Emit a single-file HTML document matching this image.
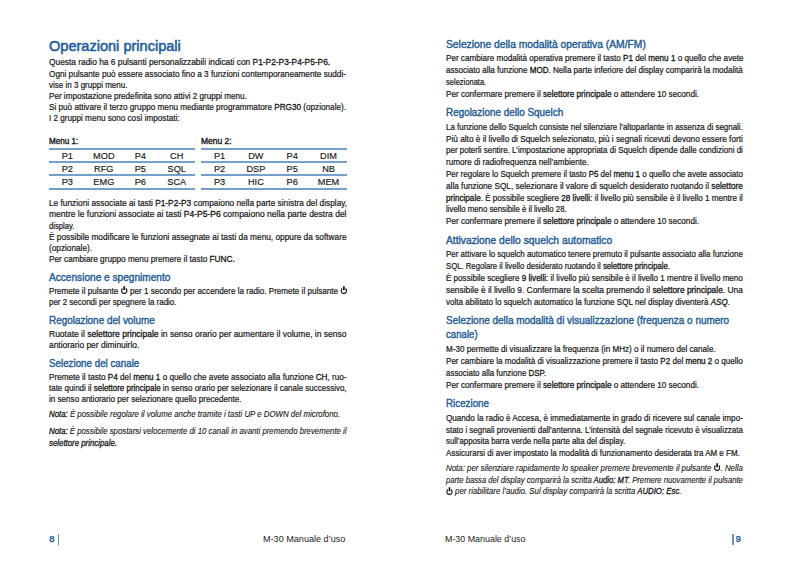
<!DOCTYPE html><html><head><meta charset="utf-8"><style>
*{margin:0;padding:0;box-sizing:border-box}
html,body{width:793px;height:561px;overflow:hidden;background:#fff}
body{position:relative;font-family:"Liberation Sans",sans-serif;color:#231f20}
.ln{position:absolute;white-space:nowrap;line-height:1;transform-origin:0 0}
.t,.mh,.ft{font-size:8.6px;color:#161616;-webkit-text-stroke:0.2px #161616}
.mh{-webkit-text-stroke:0.35px #161616}
.ft{-webkit-text-stroke:0;font-size:9.4px;color:#222}
.title{font-size:15.3px;color:#1d5c9a;-webkit-text-stroke:0.55px #1d5c9a}
.h{font-size:10.5px;color:#1f5b96;-webkit-text-stroke:0.4px #1f5b96}
i{-webkit-text-stroke:0.12px currentColor}
b{font-weight:normal;-webkit-text-stroke:0.3px currentColor}
.pw{display:inline-block;vertical-align:-0.6px;-webkit-text-stroke:0}
.rule{position:absolute;height:2px;background:#74a0cb}
.cell{position:absolute;font-size:9.2px;line-height:1;white-space:nowrap;text-align:center;color:#161616;-webkit-text-stroke:0.15px #161616}
.pg{position:absolute;font-size:9.2px;line-height:1;color:#255f98;-webkit-text-stroke:0.45px #255f98}
.bar{position:absolute;width:1.6px;background:#6a93bf}
</style></head><body><div class="ln title" id="l0" style="left:48.68px;top:38.05px;transform:scaleX(0.9510)">Operazioni principali</div>
<div class="ln t" id="l1" style="left:48.52px;top:58.02px;transform:scaleX(0.9728)">Questa radio ha 6 pulsanti personalizzabili indicati con <b>P1-P2-P3-P4-P5-P6.</b></div>
<div class="ln t" id="l2" style="left:48.52px;top:70.12px;transform:scaleX(0.9549)">Ogni pulsante può essere associato fino a 3 funzioni contemporaneamente suddi-</div>
<div class="ln t" id="l3" style="left:48.52px;top:81.42px;transform:scaleX(0.9334)">vise in 3 gruppi menu.</div>
<div class="ln t" id="l4" style="left:48.52px;top:92.32px;transform:scaleX(0.9434)">Per impostazione predefinita sono attivi 2 gruppi menu.</div>
<div class="ln t" id="l5" style="left:48.52px;top:103.42px;transform:scaleX(0.9506)">Si può attivare il terzo gruppo menu mediante programmatore <b>PRG30</b> (opzionale).</div>
<div class="ln t" id="l6" style="left:48.52px;top:113.92px;transform:scaleX(0.9451)">I 2 gruppi menu sono così impostati:</div>
<div class="ln mh" id="l7" style="left:48.52px;top:137.12px;transform:scaleX(0.9453)">Menu 1:</div>
<div class="ln mh" id="l8" style="left:200.68px;top:137.12px;transform:scaleX(0.9877)">Menu 2:</div>
<div class="ln t" id="l9" style="left:48.52px;top:198.82px;transform:scaleX(0.9665)">Le funzioni associate ai tasti <b>P1-P2-P3</b> compaiono nella parte sinistra del display,</div>
<div class="ln t" id="l10" style="left:48.52px;top:210.12px;transform:scaleX(0.9901)">mentre le funzioni associate ai tasti <b>P4-P5-P6</b> compaiono nella parte destra del</div>
<div class="ln t" id="l11" style="left:48.52px;top:222.12px;transform:scaleX(0.8941)">display.</div>
<div class="ln t" id="l12" style="left:48.52px;top:233.12px;transform:scaleX(0.9656)">È possibile modificare le funzioni assegnate ai tasti da menu, oppure da software</div>
<div class="ln t" id="l13" style="left:48.52px;top:244.22px;transform:scaleX(0.9576)">(opzionale).</div>
<div class="ln t" id="l14" style="left:48.52px;top:255.42px;transform:scaleX(0.9551)">Per cambiare gruppo menu premere il tasto <b>FUNC.</b></div>
<div class="ln h" id="l15" style="left:48.52px;top:272.11px;transform:scaleX(0.9625)">Accensione e spegnimento</div>
<div class="ln t" id="l16" style="left:48.52px;top:286.22px;transform:scaleX(0.9427)">Premete il pulsante <svg class="pw" viewBox="0 0 7 7.5" width="7.6" height="8.1"><path d="M5.17 2.31 A2.6 2.6 0 1 1 1.83 2.31" fill="none" stroke="currentColor" stroke-width="1.15"/><path d="M3.5 0.2 V3.9" stroke="currentColor" stroke-width="1.7"/></svg> per 1 secondo per accendere la radio. Premete il pulsante <svg class="pw" viewBox="0 0 7 7.5" width="7.6" height="8.1"><path d="M5.17 2.31 A2.6 2.6 0 1 1 1.83 2.31" fill="none" stroke="currentColor" stroke-width="1.15"/><path d="M3.5 0.2 V3.9" stroke="currentColor" stroke-width="1.7"/></svg></div>
<div class="ln t" id="l17" style="left:48.52px;top:298.02px;transform:scaleX(0.9268)">per 2 secondi per spegnere la radio.</div>
<div class="ln h" id="l18" style="left:48.52px;top:314.61px;transform:scaleX(0.9447)">Regolazione del volume</div>
<div class="ln t" id="l19" style="left:48.52px;top:330.42px;transform:scaleX(0.9885)">Ruotate il <b>selettore principale</b> in senso orario per aumentare il volume, in senso</div>
<div class="ln t" id="l20" style="left:48.52px;top:341.02px;transform:scaleX(0.9797)">antiorario per diminuirlo.</div>
<div class="ln h" id="l21" style="left:48.52px;top:358.01px;transform:scaleX(0.9320)">Selezione del canale</div>
<div class="ln t" id="l22" style="left:48.52px;top:372.82px;transform:scaleX(0.9478)">Premete il tasto <b>P4</b> del <b>menu 1</b> o quello che avete associato alla funzione <b>CH</b>, ruo-</div>
<div class="ln t" id="l23" style="left:48.52px;top:384.02px;transform:scaleX(0.9268)">tate quindi il <b>selettore principale</b> in senso orario per selezionare il canale successivo,</div>
<div class="ln t" id="l24" style="left:48.52px;top:395.22px;transform:scaleX(0.9413)">in senso antiorario per selezionare quello precedente.</div>
<div class="ln t" id="l25" style="left:48.52px;top:410.12px;transform:scaleX(0.9133)"><i><b>Nota:</b> È possibile regolare il volume anche tramite i tasti UP e DOWN del microfono.</i></div>
<div class="ln t" id="l26" style="left:48.52px;top:427.12px;transform:scaleX(0.9079)"><i><b>Nota:</b> È possibile spostarsi velocemente di 10 canali in avanti premendo brevemente il</i></div>
<div class="ln t" id="l27" style="left:48.52px;top:439.22px;transform:scaleX(0.9124)"><i><b>selettore principale.</b></i></div>
<div class="ln ft" id="l28" style="left:262.64px;top:534.04px;transform:scaleX(0.9690)">M-30 Manuale d&#8217;uso</div>
<div class="ln ft" id="l29" style="left:445.20px;top:534.04px;transform:scaleX(0.9478)">M-30 Manuale d&#8217;uso</div>
<div class="ln h" id="l30" style="left:445.52px;top:38.91px;transform:scaleX(0.9811)">Selezione della modalità operativa (AM/FM)</div>
<div class="ln t" id="l31" style="left:445.52px;top:54.32px;transform:scaleX(0.9434)">Per cambiare modalità operativa premere il tasto <b>P1</b> del <b>menu 1</b> o quello che avete</div>
<div class="ln t" id="l32" style="left:445.52px;top:65.82px;transform:scaleX(0.9372)">associato alla funzione <b>MOD</b>. Nella parte inferiore del display comparirà la modalità</div>
<div class="ln t" id="l33" style="left:445.52px;top:77.62px;transform:scaleX(0.8764)">selezionata.</div>
<div class="ln t" id="l34" style="left:445.52px;top:90.42px;transform:scaleX(0.9491)">Per confermare premere il <b>selettore principale</b> o attendere 10 secondi.</div>
<div class="ln h" id="l35" style="left:445.52px;top:106.71px;transform:scaleX(0.9426)">Regolazione dello Squelch</div>
<div class="ln t" id="l36" style="left:445.52px;top:122.62px;transform:scaleX(0.9260)">La funzione dello Squelch consiste nel silenziare l&#8217;altoparlante in assenza di segnali.</div>
<div class="ln t" id="l37" style="left:445.52px;top:134.82px;transform:scaleX(0.9589)">Più alto è il livello di Squelch selezionato, più i segnali ricevuti devono essere forti</div>
<div class="ln t" id="l38" style="left:445.52px;top:146.32px;transform:scaleX(0.9288)">per poterli sentire. L&#8217;impostazione appropriata di Squelch dipende dalle condizioni di</div>
<div class="ln t" id="l39" style="left:445.52px;top:157.92px;transform:scaleX(0.9432)">rumore di radiofrequenza nell&#8217;ambiente.</div>
<div class="ln t" id="l40" style="left:445.52px;top:170.12px;transform:scaleX(0.9274)">Per regolare lo Squelch premere il tasto <b>P5</b> del <b>menu 1</b> o quello che avete associato</div>
<div class="ln t" id="l41" style="left:445.52px;top:181.92px;transform:scaleX(0.9574)">alla funzione SQL, selezionare il valore di squelch desiderato ruotando il <b>selettore</b></div>
<div class="ln t" id="l42" style="left:445.52px;top:194.32px;transform:scaleX(0.9429)"><b>principale</b>. È possibile scegliere <b>28 livelli</b>: il livello più sensibile è il livello 1 mentre il</div>
<div class="ln t" id="l43" style="left:445.52px;top:205.02px;transform:scaleX(0.9088)">livello meno sensibile è il livello 28.</div>
<div class="ln t" id="l44" style="left:445.52px;top:216.72px;transform:scaleX(0.9491)">Per confermare premere il <b>selettore principale</b> o attendere 10 secondi.</div>
<div class="ln h" id="l45" style="left:445.52px;top:234.61px;transform:scaleX(0.9785)">Attivazione dello squelch automatico</div>
<div class="ln t" id="l46" style="left:445.52px;top:250.02px;transform:scaleX(0.9260)">Per attivare lo squelch automatico tenere premuto il pulsante associato alla funzione</div>
<div class="ln t" id="l47" style="left:445.52px;top:262.22px;transform:scaleX(0.9000)">SQL. Regolare il livello desiderato ruotando il <b>selettore principale</b>.</div>
<div class="ln t" id="l48" style="left:445.52px;top:274.02px;transform:scaleX(0.9387)">È possibile scegliere <b>9 livelli</b>: il livello più sensibile è il livello 1 mentre il livello meno</div>
<div class="ln t" id="l49" style="left:445.52px;top:286.32px;transform:scaleX(0.9755)">sensibile è il livello 9. Confermare la scelta premendo il <b>selettore principale</b>. Una</div>
<div class="ln t" id="l50" style="left:445.52px;top:297.82px;transform:scaleX(0.9386)">volta abilitato lo squelch automatico la funzione SQL nel display diventerà <i><b>ASQ</b></i>.</div>
<div class="ln h" id="l51" style="left:445.52px;top:314.71px;transform:scaleX(0.9475)">Selezione della modalità di visualizzazione (frequenza o numero</div>
<div class="ln h" id="l52" style="left:445.52px;top:329.41px;transform:scaleX(0.9184)">canale)</div>
<div class="ln t" id="l53" style="left:445.52px;top:345.12px;transform:scaleX(0.9441)">M-30 permette di visualizzare la frequenza (in MHz) o il numero del canale.</div>
<div class="ln t" id="l54" style="left:445.52px;top:356.92px;transform:scaleX(0.9386)">Per cambiare la modalità di visualizzazione premere il tasto <b>P2</b> del <b>menu 2</b> o quello</div>
<div class="ln t" id="l55" style="left:445.52px;top:369.02px;transform:scaleX(0.9234)">associato alla funzione <b>DSP</b>.</div>
<div class="ln t" id="l56" style="left:445.52px;top:381.02px;transform:scaleX(0.9491)">Per confermare premere il <b>selettore principale</b> o attendere 10 secondi.</div>
<div class="ln h" id="l57" style="left:445.52px;top:397.51px;transform:scaleX(0.9326)">Ricezione</div>
<div class="ln t" id="l58" style="left:445.52px;top:413.52px;transform:scaleX(0.9444)">Quando la radio è Accesa, è immediatamente in grado di ricevere sul canale impo-</div>
<div class="ln t" id="l59" style="left:445.52px;top:425.72px;transform:scaleX(0.9233)">stato i segnali provenienti dall&#8217;antenna. L&#8217;intensità del segnale ricevuto è visualizzata</div>
<div class="ln t" id="l60" style="left:445.52px;top:437.22px;transform:scaleX(0.9088)">sull&#8217;apposita barra verde nella parte alta del display.</div>
<div class="ln t" id="l61" style="left:445.52px;top:448.72px;transform:scaleX(0.9305)">Assicurarsi di aver impostato la modalità di funzionamento desiderata tra AM e FM.</div>
<div class="ln t" id="l62" style="left:445.52px;top:463.22px;transform:scaleX(0.9167)"><i>Nota: per silenziare rapidamente lo speaker premere brevemente il pulsante <svg class="pw" viewBox="0 0 7 7.5" width="7.6" height="8.1"><path d="M5.17 2.31 A2.6 2.6 0 1 1 1.83 2.31" fill="none" stroke="currentColor" stroke-width="1.15"/><path d="M3.5 0.2 V3.9" stroke="currentColor" stroke-width="1.7"/></svg>. Nella</i></div>
<div class="ln t" id="l63" style="left:445.52px;top:475.92px;transform:scaleX(0.8946)"><i>parte bassa del display comparirà la scritta <b>Audio: MT</b>. Premere nuovamente il pulsante</i></div>
<div class="ln t" id="l64" style="left:445.52px;top:486.72px;transform:scaleX(0.9092)"><i><svg class="pw" viewBox="0 0 7 7.5" width="7.6" height="8.1"><path d="M5.17 2.31 A2.6 2.6 0 1 1 1.83 2.31" fill="none" stroke="currentColor" stroke-width="1.15"/><path d="M3.5 0.2 V3.9" stroke="currentColor" stroke-width="1.7"/></svg> per riabilitare l&#8217;audio. Sul display comparirà la scritta <b>AUDIO: Esc</b>.</i></div>
<div class="rule" style="left:49.1px;top:148px;width:145.90px"></div>
<div class="rule" style="left:49.1px;top:161px;width:145.90px"></div>
<div class="rule" style="left:49.1px;top:174px;width:145.90px"></div>
<div class="rule" style="left:49.1px;top:188px;width:145.90px"></div>
<div class="cell" style="left:49.10px;top:152.21px;width:36.48px">P1</div>
<div class="cell" style="left:85.58px;top:152.21px;width:36.48px">MOD</div>
<div class="cell" style="left:122.05px;top:152.21px;width:36.48px">P4</div>
<div class="cell" style="left:158.53px;top:152.21px;width:36.48px">CH</div>
<div class="cell" style="left:49.10px;top:165.21px;width:36.48px">P2</div>
<div class="cell" style="left:85.58px;top:165.21px;width:36.48px">RFG</div>
<div class="cell" style="left:122.05px;top:165.21px;width:36.48px">P5</div>
<div class="cell" style="left:158.53px;top:165.21px;width:36.48px">SQL</div>
<div class="cell" style="left:49.10px;top:177.51px;width:36.48px">P3</div>
<div class="cell" style="left:85.58px;top:177.51px;width:36.48px">EMG</div>
<div class="cell" style="left:122.05px;top:177.51px;width:36.48px">P6</div>
<div class="cell" style="left:158.53px;top:177.51px;width:36.48px">SCA</div>
<div class="rule" style="left:201.4px;top:148px;width:145.30px"></div>
<div class="rule" style="left:201.4px;top:161px;width:145.30px"></div>
<div class="rule" style="left:201.4px;top:174px;width:145.30px"></div>
<div class="rule" style="left:201.4px;top:188px;width:145.30px"></div>
<div class="cell" style="left:201.40px;top:152.21px;width:36.32px">P1</div>
<div class="cell" style="left:237.72px;top:152.21px;width:36.32px">DW</div>
<div class="cell" style="left:274.05px;top:152.21px;width:36.32px">P4</div>
<div class="cell" style="left:310.38px;top:152.21px;width:36.32px">DIM</div>
<div class="cell" style="left:201.40px;top:165.21px;width:36.32px">P2</div>
<div class="cell" style="left:237.72px;top:165.21px;width:36.32px">DSP</div>
<div class="cell" style="left:274.05px;top:165.21px;width:36.32px">P5</div>
<div class="cell" style="left:310.38px;top:165.21px;width:36.32px">NB</div>
<div class="cell" style="left:201.40px;top:177.51px;width:36.32px">P3</div>
<div class="cell" style="left:237.72px;top:177.51px;width:36.32px">HIC</div>
<div class="cell" style="left:274.05px;top:177.51px;width:36.32px">P6</div>
<div class="cell" style="left:310.38px;top:177.51px;width:36.32px">MEM</div>
<div class="pg" style="left:49.3px;top:534.98px">8</div>
<div class="bar" style="left:57.5px;top:534px;height:11px"></div>
<div class="bar" style="left:732px;top:534px;height:11px"></div>
<div class="pg" style="left:735.8px;top:534.98px">9</div></body></html>
